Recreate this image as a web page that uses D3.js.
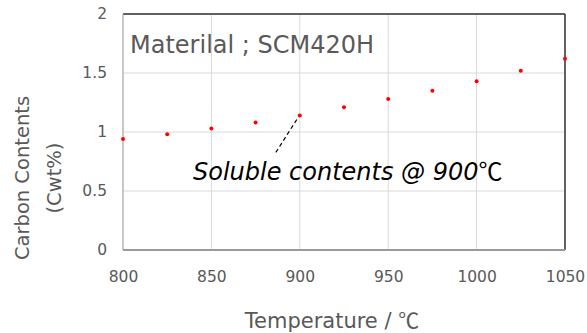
<!DOCTYPE html>
<html>
<head>
<meta charset="utf-8">
<script src="https://cdn.jsdelivr.net/npm/d3@7"></script>
<style>
  html, body { margin: 0; padding: 0; background: #fff; }
  svg { display: block; }
  text { font-family: "DejaVu Sans", "Noto Sans", sans-serif; }
  .cjk { font-family: "Noto Sans CJK JP", sans-serif; font-style: normal; }
</style>
</head>
<body>
<div id="chart"></div>
<script>
// Soluble carbon content of SCM420H vs. temperature
const temperatures = [800, 825, 850, 875, 900, 925, 950, 975, 1000, 1025, 1050];
const carbonContents = [0.94, 0.98, 1.03, 1.08, 1.14, 1.21, 1.28, 1.35, 1.43, 1.52, 1.62];
const xTicks = [800, 850, 900, 950, 1000, 1050];
const yTicks = [0, 0.5, 1, 1.5, 2];
const noteTemperature = 900;

const W = 587, H = 333;
const margin = { left: 123, right: 22, top: 14, bottom: 83 };

const svg = d3.select("#chart").append("svg")
  .attr("width", W).attr("height", H);

const x = d3.scaleLinear().domain([800, 1050]).range([margin.left, W - margin.right]);
const y = d3.scaleLinear().domain([0, 2]).range([H - margin.bottom, margin.top]);

// grid
svg.append("g").selectAll("line.v").data(xTicks).join("line")
  .attr("x1", d => x(d)).attr("x2", d => x(d))
  .attr("y1", y(0)).attr("y2", y(2))
  .attr("stroke", "#d9d9d9").attr("stroke-width", 1);
svg.append("g").selectAll("line.h").data(yTicks).join("line")
  .attr("x1", x(800)).attr("x2", x(1050))
  .attr("y1", d => y(d)).attr("y2", d => y(d))
  .attr("stroke", "#d9d9d9").attr("stroke-width", 1);

// frame: dark top/right, grey axis lines left/bottom
svg.append("line").attr("x1", x(800)).attr("x2", x(1050)).attr("y1", y(2)).attr("y2", y(2))
  .attr("stroke", "#333").attr("stroke-width", 1.5);
svg.append("line").attr("x1", x(1050)).attr("x2", x(1050)).attr("y1", y(2)).attr("y2", y(0))
  .attr("stroke", "#333").attr("stroke-width", 1.5);
svg.append("line").attr("x1", x(800)).attr("x2", x(800)).attr("y1", y(2)).attr("y2", y(0))
  .attr("stroke", "#b0b0b0").attr("stroke-width", 1.2);
svg.append("line").attr("x1", x(800)).attr("x2", x(1050)).attr("y1", y(0)).attr("y2", y(0))
  .attr("stroke", "#9a9a9a").attr("stroke-width", 1.8);

// axes (labels only)
const xAxis = svg.append("g").attr("transform", `translate(0,${y(0)})`)
  .call(d3.axisBottom(x).tickValues(xTicks).tickSize(0).tickPadding(21).tickFormat(d3.format("d")));
const yAxis = svg.append("g").attr("transform", `translate(${x(800)},0)`)
  .call(d3.axisLeft(y).tickValues(yTicks).tickSize(0).tickPadding(16).tickFormat(d => String(d)));
[xAxis, yAxis].forEach(g => {
  g.select(".domain").remove();
  g.selectAll("text").attr("fill", "#595959").style("font-size", "15.5px")
    .style("font-family", "\"DejaVu Sans\", sans-serif");
});

// points
svg.append("g").selectAll("circle").data(temperatures).join("circle")
  .attr("cx", d => x(d))
  .attr("cy", (d, i) => y(carbonContents[i]))
  .attr("r", 2)
  .attr("fill", "#ff0000");

// annotation leader to the 900 ℃ point
const i900 = temperatures.indexOf(noteTemperature);
svg.append("line")
  .attr("x1", x(noteTemperature) - 3).attr("y1", y(carbonContents[i900]) + 4)
  .attr("x2", x(noteTemperature) - 24).attr("y2", y(carbonContents[i900]) + 37)
  .attr("stroke", "#000").attr("stroke-width", 1.2).attr("stroke-dasharray", "4,3");

const note = svg.append("text")
  .attr("x", 193).attr("y", 180)
  .attr("fill", "#000")
  .style("font-size", "24px").style("font-style", "italic");
note.append("tspan").text("Soluble contents @ 900");
note.append("tspan").attr("class", "cjk").text("℃");

svg.append("text")
  .attr("x", 130).attr("y", 53)
  .attr("fill", "#595959")
  .style("font-size", "24px")
  .text("Materilal ; SCM420H");

// axis titles
const xt = svg.append("text")
  .attr("x", 332).attr("y", 328)
  .attr("text-anchor", "middle").attr("fill", "#595959")
  .style("font-size", "21px");
xt.append("tspan").text("Temperature / ");
xt.append("tspan").attr("class", "cjk").text("℃");

const yt = svg.append("text")
  .attr("transform", `translate(29,178) rotate(-90)`)
  .attr("text-anchor", "middle").attr("fill", "#595959")
  .style("font-size", "19.5px");
yt.append("tspan").attr("x", 0).attr("dy", 0).text("Carbon Contents");
yt.append("tspan").attr("x", 0).attr("dy", 32).text("(Cwt%)");
</script>
</body>
</html>
